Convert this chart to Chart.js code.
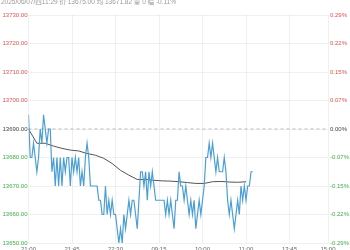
<!DOCTYPE html>
<html>
<head>
<meta charset="utf-8">
<script src="https://cdn.jsdelivr.net/npm/chart.js@4"></script>
<style>
    html, body { margin: 0; padding: 0; background: #fff; }
    #box { position: relative; width: 350px; height: 250px; overflow: hidden; }
    #head {
        position: absolute; top: -4px; left: 1px;
        font: 6.5px "Liberation Sans", "Noto Sans CJK SC", sans-serif;
        color: #999; white-space: nowrap;
    }
</style>
</head>
<body>
<div id="box">
    <canvas id="minuteChart"></canvas>
    <div id="head">2025/06/07/四11:29 价 13675.00 均 13671.82 量 0 幅 -0.11%</div>
</div>
<script>
// 昨收
const prevClose = 13690;

const timeLabels = ["21:00", "21:45", "22:30", "09:15", "10:00", "11:00", "13:45", "15:00"];

const priceTicks = [13650, 13660, 13670, 13680, 13690, 13700, 13710, 13720, 13730];

// 分时价格
const prices = [
    13695, 13680, 13680, 13685, 13680, 13675, 13680, 13690, 13685, 13695,
    13690, 13685, 13690, 13690, 13675, 13680, 13670, 13680, 13670, 13680,
    13670, 13680, 13675, 13680, 13680, 13670, 13680, 13675, 13680, 13675,
    13680, 13670, 13675, 13670, 13680, 13685, 13680, 13670, 13670, 13670,
    13670, 13670, 13665, 13665, 13660, 13660, 13670, 13660, 13665, 13660,
    13665, 13660, 13660, 13655, 13650, 13655, 13650, 13660, 13655, 13660,
    13665, 13660, 13665, 13665, 13660, 13655, 13665, 13675,
    13675, 13670, 13675, 13665, 13675, 13670, 13675, 13670, 13665, 13665,
    13665, 13665, 13665, 13665, 13660, 13665, 13660, 13665, 13660, 13655,
    13665, 13665, 13675, 13670, 13670, 13665, 13670, 13665, 13660, 13665,
    13660, 13665, 13655, 13660, 13665, 13660, 13665, 13670, 13680, 13680,
    13685, 13680, 13685, 13680, 13675, 13680, 13675, 13675, 13675, 13680,
    13675, 13665, 13660, 13665, 13660, 13655, 13660, 13665, 13660, 13670,
    13665, 13670, 13665, 13670, 13670, 13675, 13675
];

// 均价 (每5个点读一次)
const avgPrices = [
    13690, 13685, 13685, 13684, 13683.2, 13682.6, 13682.3, 13681.4, 13680.8, 13679.7,
    13677.9, 13675.5, 13673.8, 13672.3, 13672.3, 13672, 13671.8, 13671.7, 13671.5, 13671.2,
    13670.9, 13670.9, 13671.5, 13671.6, 13671.4, 13671.3, 13671.5
];

const avgStep = 5;
const labelStep = 26;
const lastSlot = 179;

function priceColor(v) {
    if (v > prevClose) return "#e0534a";
    if (v < prevClose) return "#3fae49";
    return "#444";
}

const gridColor = "rgba(0,0,0,0.06)";
const tickFont = { family: "Liberation Sans", size: 6 };

new Chart(document.getElementById("minuteChart"), {
    type: "line",
    data: {
        datasets: [
            {
                data: prices.map((p, i) => ({ x: i, y: p })),
                borderColor: "#4c9fd3",
                borderWidth: 1.2,
                pointRadius: 0,
                tension: 0
            },
            {
                data: avgPrices.map((p, i) => ({ x: i * avgStep, y: p })),
                borderColor: "#555",
                borderWidth: 1,
                pointRadius: 0,
                tension: 0
            },
            {
                data: [{ x: 0, y: prevClose }, { x: lastSlot, y: prevClose }],
                borderColor: "#bbb",
                borderWidth: 1,
                borderDash: [3, 3],
                pointRadius: 0
            }
        ]
    },
    options: {
        animation: false,
        responsive: true,
        maintainAspectRatio: false,
        layout: { padding: { top: 15, left: 0, right: 0, bottom: 0 } },
        plugins: {
            legend: { display: false },
            tooltip: { enabled: false }
        },
        scales: {
            x: {
                type: "linear",
                min: 0,
                max: lastSlot,
                afterFit: s => { s.height = 7; },
                grid: { color: gridColor, drawTicks: false },
                border: { display: false },
                ticks: {
                    stepSize: labelStep,
                    padding: 3,
                    maxRotation: 0,
                    autoSkip: false,
                    font: tickFont,
                    color: "#666",
                    callback: v => v === lastSlot
                        ? timeLabels[timeLabels.length - 1]
                        : timeLabels[Math.round(v / labelStep)]
                }
            },
            y: {
                position: "left",
                min: priceTicks[0],
                max: priceTicks[priceTicks.length - 1],
                afterFit: s => { s.width = 28.5; },
                afterBuildTicks: s => { s.ticks = priceTicks.map(v => ({ value: v })); },
                grid: { color: gridColor, drawTicks: false },
                border: { display: false },
                ticks: {
                    padding: 1,
                    font: tickFont,
                    color: c => priceColor(c.tick.value),
                    callback: v => v.toFixed(2)
                }
            },
            y1: {
                position: "right",
                min: priceTicks[0],
                max: priceTicks[priceTicks.length - 1],
                afterFit: s => { s.width = 22; },
                afterBuildTicks: s => { s.ticks = priceTicks.map(v => ({ value: v })); },
                grid: { display: false, drawTicks: false },
                border: { display: false },
                ticks: {
                    padding: 2,
                    font: tickFont,
                    color: c => priceColor(c.tick.value),
                    callback: v => ((v - prevClose) / prevClose * 100).toFixed(2) + "%"
                }
            }
        }
    }
});
</script>
</body>
</html>
